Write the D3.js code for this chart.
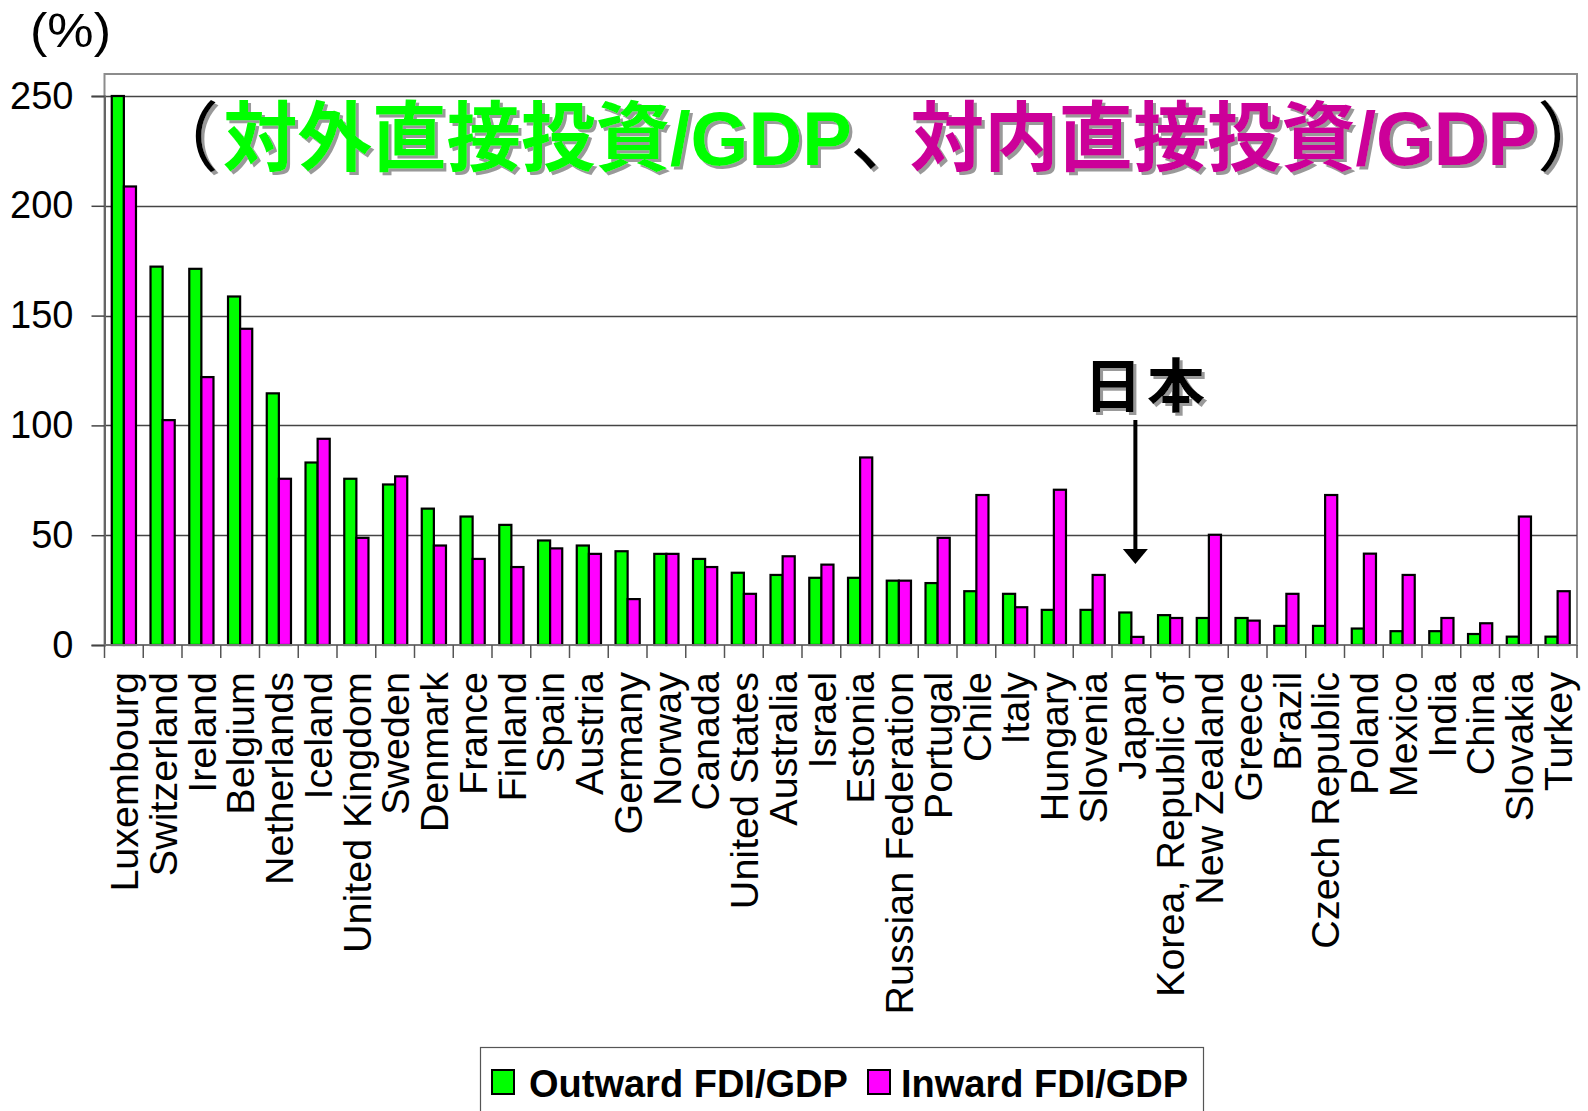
<!DOCTYPE html>
<html>
<head>
<meta charset="utf-8">
<script src="https://cdn.jsdelivr.net/npm/d3@7"></script>
<style>
  html, body { margin: 0; padding: 0; background: #fff; }
  svg { display: block; font-family: "Liberation Sans", Arial, sans-serif; }
</style>
</head>
<body>
<svg id="chart" width="1588" height="1111"></svg>
<script>
let WIDTH = 1588;
let HEIGHT = 1111;

let countries = ['Luxembourg', 'Switzerland', 'Ireland', 'Belgium', 'Netherlands', 'Iceland',
  'United Kingdom', 'Sweden', 'Denmark', 'France', 'Finland', 'Spain', 'Austria', 'Germany',
  'Norway', 'Canada', 'United States', 'Australia', 'Israel', 'Estonia', 'Russian Federation',
  'Portugal', 'Chile', 'Italy', 'Hungary', 'Slovenia', 'Japan', 'Korea, Republic of',
  'New Zealand', 'Greece', 'Brazil', 'Czech Republic', 'Poland', 'Mexico', 'India', 'China',
  'Slovakia', 'Turkey'];

// 対外直接投資/GDP (%)
let outward = [250, 172.3, 171.3, 158.7, 114.6, 83.1, 75.7, 73.1, 62.1, 58.5, 54.7, 47.6,
  45.3, 42.7, 41.5, 39.2, 32.9, 31.9, 30.6, 30.6, 29.3, 28.2, 24.5, 23.3, 16.0, 16.0, 14.8,
  13.6, 12.3, 12.3, 8.7, 8.7, 7.5, 6.3, 6.3, 5.0, 3.8, 3.8];

// 対内直接投資/GDP (%)
let inward = [208.8, 102.4, 122.0, 144.0, 75.7, 93.9, 48.8, 76.8, 45.3, 39.2, 35.5, 44.0,
  41.5, 20.9, 41.5, 35.5, 23.3, 40.4, 36.6, 85.4, 29.3, 48.8, 68.3, 17.2, 70.7, 31.9, 3.7,
  12.3, 50.2, 11.1, 23.3, 68.3, 41.6, 31.9, 12.3, 9.9, 58.5, 24.5];

let yTicks = [0, 50, 100, 150, 200, 250];
let seriesNames = ['Outward FDI/GDP', 'Inward FDI/GDP'];
let seriesColors = ['#00ff00', '#ff00ff'];

let plot = { left: 104.5, right: 1577, top: 74, bottom: 645 };

let svg = d3.select('#chart');

// drop shadow for the big labels
let defs = svg.append('defs');
defs.append('filter')
    .attr('id', 'shadow')
    .attr('x', '-10%').attr('y', '-20%')
    .attr('width', '120%').attr('height', '140%')
  .append('feDropShadow')
    .attr('dx', 3).attr('dy', 3)
    .attr('stdDeviation', 0.6)
    .attr('flood-color', '#999')
    .attr('flood-opacity', 1);

// scales
let xScale = d3.scaleBand()
  .domain(countries)
  .range([plot.left, plot.right])
  .paddingInner(0)
  .paddingOuter(0);

let xInner = d3.scaleBand()
  .domain([0, 1])
  .range([0, xScale.bandwidth()])
  .paddingInner(0)
  .paddingOuter(0.6);

let yScale = d3.scaleLinear()
  .domain([0, 250])
  .range([plot.bottom, 96]);

// plot frame (top / right)
svg.append('rect')
  .attr('x', plot.left)
  .attr('y', plot.top)
  .attr('width', plot.right - plot.left)
  .attr('height', plot.bottom - plot.top)
  .attr('fill', 'none')
  .attr('stroke', '#8c8c8c')
  .attr('stroke-width', 2);

// gridlines
svg.append('g')
  .selectAll('line')
  .data(yTicks.filter(function (d) { return d > 0; }))
  .enter().append('line')
    .attr('x1', plot.left)
    .attr('x2', plot.right)
    .attr('y1', function (d) { return Math.round(yScale(d)) + 0.5; })
    .attr('y2', function (d) { return Math.round(yScale(d)) + 0.5; })
    .attr('stroke', '#444')
    .attr('stroke-width', 1.5);

// y axis
let leftAxis = d3.axisLeft(yScale)
  .tickValues(yTicks)
  .tickSize(13)
  .tickPadding(18);

let yAxisG = svg.append('g')
  .attr('transform', 'translate(' + plot.left + ',0)')
  .call(leftAxis);
yAxisG.select('.domain').attr('stroke', '#666').attr('stroke-width', 2);
yAxisG.selectAll('.tick line').attr('stroke', '#444').attr('stroke-width', 1.5);
yAxisG.selectAll('.tick text')
  .attr('font-size', 38)
  .attr('fill', '#000')
  .attr('font-family', '"Liberation Sans", Arial, sans-serif');

// bars
let groups = svg.append('g')
  .selectAll('g')
  .data(countries)
  .enter().append('g')
    .attr('transform', function (d) { return 'translate(' + xScale(d) + ',0)'; });

groups.selectAll('rect')
  .data(function (d, i) { return [outward[i], inward[i]]; })
  .enter().append('rect')
    .attr('x', function (d, j) { return xInner(j); })
    .attr('y', function (d) { return yScale(d); })
    .attr('width', xInner.bandwidth())
    .attr('height', function (d) { return yScale(0) - yScale(d); })
    .attr('fill', function (d, j) { return seriesColors[j]; })
    .attr('stroke', '#000')
    .attr('stroke-width', 2.2);

// x axis line + ticks at category edges
let xAxisG = svg.append('g');
xAxisG.append('line')
  .attr('x1', plot.left).attr('x2', plot.right)
  .attr('y1', plot.bottom).attr('y2', plot.bottom)
  .attr('stroke', '#777').attr('stroke-width', 2);

let edges = countries.map(function (c) { return xScale(c); }).concat([plot.right]);
xAxisG.selectAll('line.edge')
  .data(edges)
  .enter().append('line')
    .attr('class', 'edge')
    .attr('x1', function (d) { return d; })
    .attr('x2', function (d) { return d; })
    .attr('y1', plot.bottom)
    .attr('y2', plot.bottom + 13)
    .attr('stroke', '#555')
    .attr('stroke-width', 1.5);

// category labels (rotated)
xAxisG.selectAll('text')
  .data(countries)
  .enter().append('text')
    .attr('transform', function (d) {
      return 'translate(' + (xScale(d) + xScale.bandwidth() / 2) + ',' + (plot.bottom + 27) + ') rotate(-90)';
    })
    .attr('text-anchor', 'end')
    .attr('dy', '0.36em')
    .attr('font-size', 39.5)
    .attr('fill', '#000')
    .text(function (d) { return d; });

// unit label
svg.append('text')
  .attr('x', 30)
  .attr('y', 47)
  .attr('font-size', 48)
  .attr('textLength', 81)
  .attr('lengthAdjust', 'spacingAndGlyphs')
  .text('(%)');

// title, in pieces so each one sits where it does in the slide
let titleParts = [
  { text: '（', fill: '#000', x: 143, len: null, bold: false },
  { text: '対外直接投資/GDP', fill: '#00ff00', x: 223, len: 629, bold: true },
  { text: '、', fill: '#000', x: 850, len: null, bold: false },
  { text: '対内直接投資/GDP', fill: '#cc0099', x: 910, len: 627, bold: true },
  { text: '）', fill: '#000', x: 1537, len: null, bold: false }
];
let title = svg.append('g').attr('filter', 'url(#shadow)');
titleParts.forEach(function (p) {
  let t = title.append('text')
    .attr('x', p.x)
    .attr('y', 165)
    .attr('font-size', 76)
    .attr('font-weight', p.bold ? 'bold' : 'normal')
    .attr('font-family', '"Liberation Sans", "Noto Sans CJK JP", sans-serif')
    .attr('fill', p.fill)
    .text(p.text);
  if (p.len) {
    t.attr('textLength', p.len).attr('lengthAdjust', 'spacingAndGlyphs');
  }
});

// Japan annotation
let japanX = xScale('Japan') + xScale.bandwidth() / 2 + 4;
svg.append('text')
  .attr('x', 1084)
  .attr('y', 407)
  .attr('font-size', 58)
  .attr('font-weight', 'bold')
  .attr('letter-spacing', 5)
  .attr('font-family', '"Noto Sans CJK JP", sans-serif')
  .attr('filter', 'url(#shadow)')
  .text('日本');

svg.append('line')
  .attr('x1', japanX).attr('x2', japanX)
  .attr('y1', 420).attr('y2', 552)
  .attr('stroke', '#000')
  .attr('stroke-width', 4);
svg.append('path')
  .attr('d', 'M' + (japanX - 12.5) + ',549 L' + (japanX + 12.5) + ',549 L' + japanX + ',564 Z')
  .attr('fill', '#000');

// legend
let legend = svg.append('g');
legend.append('rect')
  .attr('x', 480.5).attr('y', 1047.5)
  .attr('width', 723).attr('height', 80)
  .attr('fill', '#fff')
  .attr('stroke', '#555')
  .attr('stroke-width', 1.2);

let legendX = [492, 868];
let legendItems = legend.selectAll('g')
  .data(seriesNames)
  .enter().append('g')
    .attr('transform', function (d, i) { return 'translate(' + legendX[i] + ',1070)'; });

legendItems.append('rect')
  .attr('x', 0).attr('y', 0)
  .attr('width', 22).attr('height', 24)
  .attr('fill', function (d, i) { return seriesColors[i]; })
  .attr('stroke', '#000')
  .attr('stroke-width', 2);

legendItems.append('text')
  .attr('x', function (d, i) { return i === 0 ? 37 : 33; })
  .attr('y', 27)
  .attr('font-size', 38)
  .attr('font-weight', 'bold')
  .attr('fill', '#000')
  .text(function (d) { return d; });
</script>
</body>
</html>
